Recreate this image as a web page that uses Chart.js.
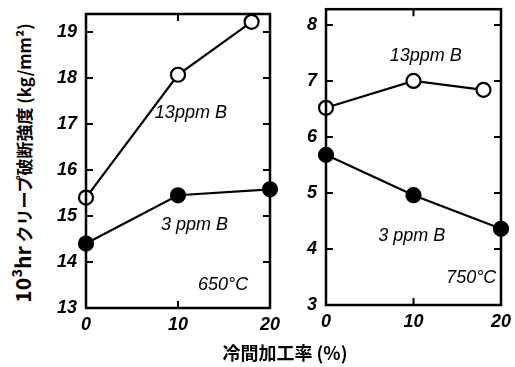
<!DOCTYPE html>
<html>
<head>
<meta charset="utf-8">
<script src="https://cdn.jsdelivr.net/npm/chart.js@4"></script>
<style>
  html, body { margin: 0; padding: 0; background: #fff; }
  #wrap { position: relative; width: 515px; height: 367px; overflow: hidden; }
  .panel { position: absolute; top: 0; height: 345px; }
  #left { left: 30px; width: 250px; }
  #right { left: 290px; width: 225px; }
  #ytitle {
    position: absolute; left: 22px; top: 163px;
    transform: translate(-50%, -50%) rotate(-90deg);
    white-space: nowrap; font-family: "Noto Sans CJK JP", sans-serif;
    font-weight: bold; font-size: 17px; color: #000;
  }
  #ytitle .big { font-size: 21px; }
  #xtitle {
    position: absolute; left: 285px; top: 352px;
    transform: translate(-50%, -50%);
    white-space: nowrap; font-family: "Noto Sans CJK JP", sans-serif;
    font-weight: bold; font-size: 18px; color: #000;
  }
</style>
</head>
<body>
<div id="wrap">
  <div id="ytitle"><span class="big">10³hr</span> クリープ破断強度 (kg/mm²)</div>
  <div class="panel" id="left"><canvas id="c650"></canvas></div>
  <div class="panel" id="right"><canvas id="c750"></canvas></div>
  <div id="xtitle">冷間加工率 (%)</div>
</div>
<script>
// cold work (%)
const work650_13 = [0, 10, 18];
const work650_3 = [0, 10, 20];
const work750_13 = [0, 10, 18];
const work750_3 = [0, 10, 20];

// 1000 hr creep rupture strength (kg/mm2)
const str650_13 = [15.4, 18.07, 19.22];
const str650_3 = [14.4, 15.45, 15.58];
const str750_13 = [6.52, 7.0, 6.84];
const str750_3 = [5.68, 4.96, 4.36];

const xTicks = [0, 10, 20];
const yTicks650 = [13, 14, 15, 16, 17, 18, 19];
const yTicks750 = [3, 4, 5, 6, 7, 8];

const notes650 = [
  { x: 11.4, y: 17.24, text: '13ppm B' },
  { x: 11.8, y: 14.8, text: '3 ppm B' },
  { x: 14.9, y: 13.5, text: '650°C' }
];
const notes750 = [
  { x: 11.4, y: 7.44, text: '13ppm B' },
  { x: 9.8, y: 4.23, text: '3 ppm B' },
  { x: 16.6, y: 3.49, text: '750°C' }
];

const tickFont = { family: "'Liberation Sans', sans-serif", size: 18, style: 'italic', weight: 'bold' };

const framePlugin = {
  id: 'frame',
  afterDatasetsDraw(chart) {
    const { ctx, chartArea: a, scales } = chart;
    ctx.save();
    ctx.strokeStyle = '#000';
    ctx.lineWidth = 2.5;
    ctx.strokeRect(a.left, a.top, a.right - a.left, a.bottom - a.top);
    ctx.lineWidth = 2;
    const len = 7;
    scales.y.ticks.forEach(t => {
      const py = scales.y.getPixelForValue(t.value);
      ctx.beginPath();
      ctx.moveTo(a.left, py); ctx.lineTo(a.left + len, py);
      ctx.moveTo(a.right, py); ctx.lineTo(a.right - len, py);
      ctx.stroke();
    });
    scales.x.ticks.forEach(t => {
      const px = scales.x.getPixelForValue(t.value);
      ctx.beginPath();
      ctx.moveTo(px, a.top); ctx.lineTo(px, a.top + len);
      ctx.moveTo(px, a.bottom); ctx.lineTo(px, a.bottom - len);
      ctx.stroke();
    });
    const notes = chart.options.plugins.frame.notes;
    ctx.fillStyle = '#000';
    ctx.font = "italic 18px 'Liberation Sans', sans-serif";
    ctx.textAlign = 'center';
    ctx.textBaseline = 'middle';
    notes.forEach(n => {
      ctx.fillText(n.text, scales.x.getPixelForValue(n.x), scales.y.getPixelForValue(n.y));
    });
    ctx.restore();
  }
};

function series(xs, ys, filled) {
  return {
    data: xs.map((x, i) => ({ x: x, y: ys[i] })),
    borderColor: '#000',
    borderWidth: 2.2,
    pointRadius: 7,
    pointBorderWidth: 2.2,
    pointBackgroundColor: filled ? '#000' : '#fff',
    pointBorderColor: '#000',
    showLine: true,
    tension: 0,
    clip: false
  };
}

function noPad(s) {
  s.paddingTop = 0; s.paddingBottom = 0; s.paddingLeft = 0; s.paddingRight = 0;
}

function makeChart(id, sets, yMin, yMax, yTicks, notes, pad, yWidth, xHeight) {
  return new Chart(document.getElementById(id), {
    type: 'scatter',
    data: { datasets: sets },
    options: {
      responsive: true,
      maintainAspectRatio: false,
      animation: false,
      layout: { padding: pad },
      plugins: {
        legend: { display: false },
        tooltip: { enabled: false },
        frame: { notes: notes }
      },
      scales: {
        x: {
          type: 'linear', min: 0, max: 20,
          afterBuildTicks: s => { s.ticks = xTicks.map(v => ({ value: v })); },
          afterFit: s => { s.height = xHeight; noPad(s); },
          ticks: { color: '#000', font: tickFont, padding: 6, maxRotation: 0 },
          grid: { display: false, drawTicks: false },
          border: { display: false }
        },
        y: {
          type: 'linear', min: yMin, max: yMax,
          afterBuildTicks: s => { s.ticks = yTicks.map(v => ({ value: v })); },
          afterFit: s => { s.width = yWidth; noPad(s); },
          ticks: { color: '#000', font: tickFont, padding: 9 },
          grid: { display: false, drawTicks: false },
          border: { display: false }
        }
      }
    },
    plugins: [framePlugin]
  });
}

makeChart('c650',
  [series(work650_13, str650_13, false), series(work650_3, str650_3, true)],
  13, 19.39, yTicks650, notes650,
  { top: 14, right: 10, left: 0, bottom: 0 }, 56, 37);

makeChart('c750',
  [series(work750_13, str750_13, false), series(work750_3, str750_3, true)],
  3, 8.28, yTicks750, notes750,
  { top: 2, right: 14, left: 0, bottom: 0 }, 36, 40);
</script>
</body>
</html>
